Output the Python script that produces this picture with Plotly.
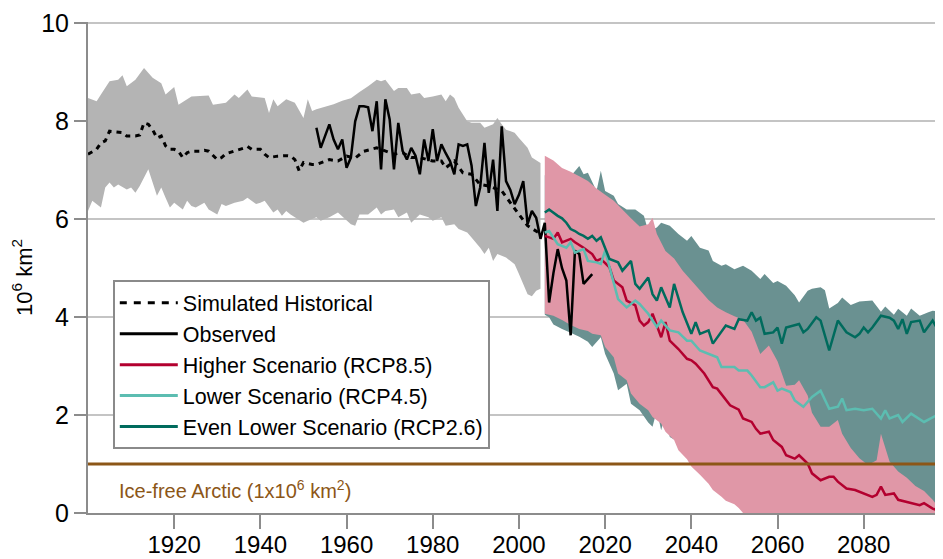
import plotly.graph_objects as go

# ---- data (10^6 km^2) ----
hist_upper_years = [1900, 1902, 1903, 1905, 1907, 1908, 1909, 1911, 1913, 1915, 1917, 1918, 1920, 1921,
                    1924, 1928, 1929, 1932, 1934, 1935, 1937, 1938, 1941, 1942, 1943, 1944, 1946, 1948,
                    1950, 1951, 1952, 1953, 1955, 1957, 1959, 1961, 1963, 1965, 1967, 1968, 1969, 1971,
                    1972, 1974, 1975, 1977, 1978, 1980, 1982, 1983, 1984, 1985, 1986, 1988, 1989, 1991,
                    1992, 1994, 1995, 1996, 1997, 1999, 2000, 2002, 2003, 2005]
hist_upper = [8.48, 8.41, 8.55, 8.82, 8.85, 8.94, 8.72, 8.85, 9.09, 8.89, 8.78, 8.55, 8.70, 8.34,
              8.51, 8.53, 8.34, 8.38, 8.55, 8.48, 8.65, 8.51, 8.48, 8.17, 8.45, 8.31, 8.45, 8.38,
              8.07, 8.45, 8.21, 8.25, 8.3, 8.35, 8.42, 8.47, 8.6, 8.72, 8.85, 8.82, 8.85, 8.62,
              8.68, 8.68, 8.55, 8.58, 8.48, 8.51, 8.55, 8.41, 8.55, 8.48, 8.28, 8.00, 7.97, 7.97,
              7.87, 7.94, 8.07, 7.94, 7.83, 7.77, 7.66, 7.46, 7.26, 7.15]

hist_lower_years = [1900, 1901, 1903, 1904, 1905, 1906, 1907, 1909, 1910, 1911, 1912, 1914, 1915, 1916,
                    1917, 1918, 1919, 1920, 1922, 1923, 1924, 1925, 1927, 1928, 1930, 1931, 1932, 1934,
                    1936, 1937, 1939, 1940, 1941, 1943, 1944, 1945, 1946, 1947, 1948, 1950, 1951, 1953,
                    1954, 1956, 1958, 1961, 1962, 1963, 1965, 1967, 1968, 1969, 1971, 1972, 1974, 1975,
                    1977, 1979, 1980, 1982, 1983, 1985, 1986, 1988, 1989, 1991, 1992, 1993, 1994, 1995,
                    1997, 1999, 2000, 2002, 2003, 2004, 2005]
hist_lower = [6.17, 6.38, 6.24, 6.65, 6.75, 6.65, 6.71, 6.61, 6.65, 6.54, 6.68, 7.02, 6.75, 6.48,
              6.65, 6.44, 6.24, 6.34, 6.20, 6.38, 6.27, 6.24, 6.34, 6.20, 6.10, 6.31, 6.27, 6.34,
              6.38, 6.44, 6.31, 6.34, 6.38, 6.14, 6.20, 6.07, 6.17, 6.10, 6.04, 5.93, 5.97, 6.04,
              5.97, 6.04, 6.14, 5.90, 5.87, 6.10, 6.10, 6.24, 6.10, 6.17, 6.20, 6.04, 6.14, 5.93,
              6.10, 6.04, 5.97, 6.04, 5.87, 5.90, 5.80, 5.73, 5.63, 5.42, 5.29, 5.42, 5.15, 5.29,
              5.22, 5.08, 4.88, 4.47, 4.43, 4.54, 4.58]

sim_years = [1900, 1902, 1903, 1904, 1905, 1907, 1908, 1909, 1911, 1912, 1913, 1914, 1915, 1916,
             1917, 1918, 1919, 1920, 1921, 1922, 1923, 1924, 1926, 1927, 1928, 1930, 1931, 1932,
             1934, 1936, 1937, 1938, 1940, 1941, 1942, 1944, 1946, 1947, 1948, 1949, 1950, 1952,
             1953, 1955, 1956, 1958, 1960, 1962, 1964, 1967, 1970, 1971, 1973, 1975, 1977, 1980,
             1982, 1983, 1985, 1987, 1989, 1991, 1993, 1996, 2000, 2002, 2005]
sim_hist = [7.33, 7.43, 7.56, 7.60, 7.80, 7.77, 7.77, 7.70, 7.70, 7.72, 7.97, 7.94, 7.83, 7.66,
            7.70, 7.50, 7.43, 7.43, 7.39, 7.26, 7.36, 7.39, 7.39, 7.41, 7.39, 7.22, 7.26, 7.34,
            7.39, 7.45, 7.49, 7.43, 7.43, 7.33, 7.26, 7.29, 7.30, 7.29, 7.22, 6.99, 7.16, 7.12,
            7.12, 7.19, 7.22, 7.19, 7.29, 7.25, 7.39, 7.46, 7.36, 7.33, 7.36, 7.26, 7.26, 7.19,
            7.19, 7.05, 7.19, 6.95, 6.92, 6.71, 6.68, 6.58, 6.10, 5.87, 5.70]

obs_years = list(range(1953, 2018))
observed = [7.87, 7.46, 7.70, 7.94, 7.63, 7.43, 7.63, 7.05, 7.26, 8.00, 8.31, 8.31, 8.29, 7.80,
            8.41, 7.02, 8.45, 8.04, 7.02, 7.97, 7.40, 7.22, 7.46, 7.30, 6.92, 7.63, 7.19, 7.84,
            7.19, 7.53, 7.35, 7.19, 6.92, 7.53, 7.50, 7.53, 7.10, 6.27, 6.65, 7.56, 6.54, 7.22,
            6.17, 7.90, 6.78, 6.60, 6.31, 6.50, 6.78, 5.90, 6.17, 6.03, 5.60, 5.93, 4.30, 4.90,
            5.39, 5.00, 4.75, 3.63, 5.36, 5.29, 4.68, 4.78, 4.88]

rcp85_band_years = [2006, 2008, 2010, 2012, 2014, 2016, 2018, 2020, 2022, 2024, 2026, 2028, 2030, 2031,
                    2032, 2034, 2036, 2038, 2040, 2042, 2044, 2046, 2048, 2050, 2052, 2054, 2056, 2058,
                    2060, 2062, 2064, 2065, 2067, 2068, 2070, 2072, 2074, 2075, 2077, 2079, 2081, 2083,
                    2084, 2086, 2088, 2090, 2092, 2094, 2096, 2098, 2100]
rcp85_upper = [7.30, 7.20, 7.05, 6.97, 6.88, 6.78, 6.63, 6.50, 6.38, 6.20, 6.02, 5.85, 5.90, 6.03,
               5.70, 5.35, 5.20, 4.95, 4.75, 4.55, 4.35, 4.20, 4.10, 4.02, 3.95, 3.70, 3.25, 3.42,
               3.10, 2.60, 2.62, 2.71, 2.40, 2.05, 1.76, 1.76, 1.90, 1.62, 1.33, 1.12, 0.98, 1.08,
               1.62, 1.05, 0.85, 0.72, 0.55, 0.45, 0.27, 0.05, 0.0]
rcp85_lower_years = [2006, 2008, 2010, 2012, 2014, 2016, 2017, 2019, 2020, 2022, 2023, 2025, 2026, 2028,
                     2030, 2031, 2033, 2034, 2036, 2037, 2039, 2040, 2042, 2044, 2045, 2047, 2048, 2050,
                     2051, 2052, 2100]
rcp85_lower = [4.07, 4.03, 3.94, 3.84, 3.76, 3.72, 3.66, 3.63, 3.39, 3.18, 2.85, 2.71, 2.44, 2.23,
               2.10, 1.96, 1.83, 1.66, 1.49, 1.28, 1.10, 0.95, 0.78, 0.60, 0.47, 0.33, 0.25, 0.18,
               0.1, 0.0, 0.0]

rcp26_band_years = [2006, 2008, 2010, 2012, 2014, 2015, 2016, 2018, 2019, 2020, 2022, 2023, 2025, 2027,
                    2029, 2030, 2032, 2033, 2035, 2037, 2039, 2040, 2042, 2044, 2045, 2047, 2048, 2050,
                    2052, 2054, 2056, 2057, 2059, 2060, 2062, 2064, 2065, 2067, 2068, 2070, 2071, 2072,
                    2074, 2075, 2077, 2079, 2082, 2084, 2085, 2087, 2088, 2090, 2091, 2093, 2095, 2096,
                    2098, 2100]
rcp26_upper = [6.90, 6.92, 6.90, 6.88, 7.09, 6.92, 6.95, 6.58, 6.99, 6.58, 6.48, 6.31, 6.20, 6.20,
               6.07, 5.76, 5.83, 5.93, 5.87, 5.70, 5.56, 5.66, 5.42, 5.36, 5.15, 5.05, 5.08, 4.98,
               5.05, 4.95, 4.78, 4.88, 4.70, 4.74, 4.64, 4.45, 4.30, 4.54, 4.58, 4.61, 4.55, 4.18,
               4.29, 4.40, 4.25, 4.32, 4.34, 4.11, 4.22, 4.05, 4.17, 4.03, 4.18, 4.03, 4.10, 4.13,
               4.12, 4.12]
rcp26_lower_years = [2006, 2007, 2008, 2010, 2012, 2014, 2016, 2017, 2019, 2020, 2022, 2023, 2025, 2026,
                     2028, 2030, 2031, 2032, 2033, 2034, 2035, 2040, 2045, 2050, 2060, 2070, 2080, 2090,
                     2096, 2100]
rcp26_lower = [4.05, 4.00, 3.85, 3.76, 3.68, 3.60, 3.50, 3.39, 3.59, 3.25, 2.85, 2.51, 2.64, 2.23,
               2.10, 1.85, 1.76, 2.10, 1.69, 2.03, 1.55, 1.30, 1.00, 0.80, 0.60, 0.50, 0.40, 0.25,
               0.12, 0.10]

rcp85_years = [2006, 2008, 2009, 2010, 2012, 2013, 2015, 2017, 2018, 2019, 2021, 2022, 2024, 2025,
               2027, 2028, 2029, 2030, 2031, 2033, 2034, 2035, 2037, 2039, 2040, 2041, 2043, 2045,
               2046, 2048, 2049, 2051, 2052, 2054, 2055, 2056, 2058, 2059, 2061, 2062, 2064, 2065,
               2067, 2068, 2070, 2072, 2073, 2074, 2076, 2078, 2080, 2082, 2083, 2084, 2085, 2087,
               2088, 2090, 2091, 2093, 2094, 2096, 2097, 2098, 2099]
rcp85 = [5.66, 5.60, 5.73, 5.53, 5.60, 5.53, 5.42, 5.29, 5.15, 5.19, 5.02, 4.75, 4.61, 4.34,
         4.24, 3.93, 3.83, 3.90, 4.07, 3.59, 3.90, 3.52, 3.35, 3.15, 3.12, 3.05, 2.85, 2.57,
         2.54, 2.30, 2.20, 2.11, 1.93, 1.86, 1.72, 1.62, 1.66, 1.49, 1.35, 1.18, 1.11, 1.18,
         1.01, 0.81, 0.67, 0.74, 0.74, 0.64, 0.50, 0.47, 0.40, 0.33, 0.37, 0.54, 0.37, 0.40,
         0.27, 0.23, 0.20, 0.16, 0.20, 0.09, 0.06, 0.13, 0.15]

rcp45_years = [2006, 2007, 2009, 2011, 2012, 2013, 2015, 2016, 2018, 2019, 2020, 2021, 2022, 2023,
               2025, 2027, 2028, 2030, 2032, 2033, 2035, 2037, 2039, 2040, 2042, 2044, 2046, 2047,
               2048, 2050, 2051, 2053, 2054, 2056, 2057, 2059, 2060, 2061, 2063, 2064, 2066, 2068,
               2070, 2072, 2074, 2075, 2076, 2078, 2080, 2082, 2084, 2085, 2086, 2088, 2089, 2091,
               2094, 2096, 2097, 2098, 2099]
rcp45 = [5.73, 5.76, 5.49, 5.42, 5.53, 5.32, 5.39, 5.15, 5.12, 5.09, 5.36, 5.02, 4.68, 4.37,
         4.20, 4.34, 4.27, 4.07, 3.80, 3.93, 3.73, 3.69, 3.52, 3.52, 3.32, 3.25, 3.18, 2.98,
         2.98, 2.98, 2.91, 2.91, 2.81, 2.57, 2.57, 2.67, 2.50, 2.54, 2.47, 2.30, 2.17, 2.37,
         2.50, 2.13, 2.17, 2.34, 2.10, 2.13, 2.10, 2.13, 1.93, 2.10, 1.93, 2.00, 1.86, 2.03,
         1.86, 1.96, 2.00, 1.89, 1.95]

rcp26_years = [2006, 2007, 2009, 2010, 2011, 2012, 2013, 2014, 2015, 2016, 2017, 2018, 2019, 2020,
               2021, 2023, 2024, 2026, 2027, 2028, 2030, 2031, 2032, 2033, 2035, 2036, 2038, 2040,
               2041, 2042, 2044, 2045, 2047, 2048, 2050, 2051, 2053, 2054, 2055, 2056, 2057, 2059,
               2060, 2061, 2062, 2064, 2065, 2066, 2067, 2069, 2070, 2072, 2074, 2076, 2078, 2079,
               2080, 2081, 2082, 2084, 2086, 2087, 2088, 2089, 2090, 2091, 2093, 2094, 2096, 2098,
               2099]
rcp26 = [6.14, 6.20, 6.07, 6.02, 5.93, 5.80, 5.76, 5.70, 5.66, 5.60, 5.66, 5.56, 5.63, 5.42,
         5.19, 5.12, 4.95, 5.15, 4.68, 4.58, 4.81, 4.47, 4.34, 4.61, 4.20, 4.68, 4.10, 3.66,
         3.90, 3.66, 3.73, 3.46, 3.69, 3.83, 3.76, 3.96, 3.93, 4.10, 3.93, 3.99, 3.66, 3.69,
         3.79, 3.46, 3.79, 3.83, 3.86, 3.69, 3.76, 4.00, 3.93, 3.32, 3.93, 3.69, 3.59, 3.66,
         3.79, 3.69, 3.79, 4.03, 3.99, 3.93, 3.76, 3.96, 3.66, 3.90, 3.93, 3.69, 3.93, 3.62,
         3.70]

ice_free_level = 1.0
x_ticks = [1920, 1940, 1960, 1980, 2000, 2020, 2040, 2060, 2080]
y_ticks = [0, 2, 4, 6, 8, 10]

FONT = "Liberation Sans, Arial, sans-serif"
GRAY_BAND = "#B4B4B4"
PINK_BAND = "#E097A7"
TEAL_BAND = "#6A9191"
RED = "#B3002F"
LIGHT_TEAL = "#5CBDB1"
DARK_TEAL = "#006B5D"
BROWN = "#8C5617"
AXIS_GRAY = "#8C8C8C"


def band(xu, yu, xl, yl, color):
    return go.Scatter(
        x=xu + xl[::-1],
        y=yu + yl[::-1],
        fill="toself",
        fillcolor=color,
        mode="none",
        hoverinfo="skip",
        showlegend=False,
    )


fig = go.Figure()

# shaded ranges (RCP2.6 under RCP8.5)
fig.add_trace(band(hist_upper_years, hist_upper, hist_lower_years, hist_lower, GRAY_BAND))
fig.add_trace(band(rcp26_band_years, rcp26_upper, rcp26_lower_years, rcp26_lower, TEAL_BAND))
fig.add_trace(band(rcp85_band_years, rcp85_upper, rcp85_lower_years, rcp85_lower, PINK_BAND))

# lines
fig.add_trace(go.Scatter(x=sim_years, y=sim_hist, mode="lines", showlegend=False,
                         line={"color": "black", "width": 3, "dash": "5px,5px"}))
fig.add_trace(go.Scatter(x=obs_years, y=observed, mode="lines", showlegend=False,
                         line={"color": "black", "width": 2.5}))
fig.add_trace(go.Scatter(x=rcp85_years, y=rcp85, mode="lines", showlegend=False,
                         line={"color": RED, "width": 2.5}))
fig.add_trace(go.Scatter(x=rcp45_years, y=rcp45, mode="lines", showlegend=False,
                         line={"color": LIGHT_TEAL, "width": 2.5}))
fig.add_trace(go.Scatter(x=rcp26_years, y=rcp26, mode="lines", showlegend=False,
                         line={"color": DARK_TEAL, "width": 2.5}))

# legend entries
legend_items = [
    ("Simulated Historical", "black", "7px,7px"),
    ("Observed", "black", "solid"),
    ("Higher Scenario (RCP8.5)", RED, "solid"),
    ("Lower Scenario (RCP4.5)", LIGHT_TEAL, "solid"),
    ("Even Lower Scenario (RCP2.6)", DARK_TEAL, "solid"),
]
for name, color, dash in legend_items:
    fig.add_trace(go.Scatter(x=[None], y=[None], mode="lines", name=name,
                             line={"color": color, "width": 3, "dash": dash}))

# ice-free threshold
fig.add_hline(y=ice_free_level, line_color=BROWN, line_width=3)
fig.add_annotation(x=0.034, xref="paper", y=0.47, yref="y", xanchor="left",
                   text="Ice-free Arctic (1x10<sup>6</sup> km<sup>2</sup>)",
                   showarrow=False, font={"family": FONT, "size": 20, "color": BROWN})

# y-axis label as rotated text
fig.add_annotation(x=-0.077, xref="paper", y=0.479, yref="paper",
                   xanchor="center", yanchor="middle", textangle=-90,
                   text="10<sup>6</sup> km<sup>2</sup>", showarrow=False,
                   font={"family": FONT, "size": 22, "color": "black"})

# the page body adds an 8px offset, so the figure is 8px smaller than the window
fig.update_layout(
    width=935,
    height=551,
    margin={"l": 80, "r": 0, "t": 14, "b": 46},
    paper_bgcolor="white",
    plot_bgcolor="white",
    font={"family": FONT, "color": "black"},
    showlegend=True,
    legend={
        "x": 0.029, "y": 0.474, "xanchor": "left", "yanchor": "top",
        "bgcolor": "white", "bordercolor": "#8A8A8A", "borderwidth": 2,
        "font": {"family": FONT, "size": 21.5, "color": "black"},
        "itemwidth": 58, "traceorder": "normal",
    },
)

fig.update_xaxes(
    range=[1900, 2098.4],
    tickvals=x_ticks,
    ticks="outside", ticklen=14, tickwidth=2, tickcolor=AXIS_GRAY,
    showline=True, linecolor=AXIS_GRAY, linewidth=2,
    showgrid=False, zeroline=False, automargin=False,
    ticklabelstandoff=-5, ticklabeloverflow="allow",
    tickfont={"family": FONT, "size": 24, "color": "black"},
)
fig.update_yaxes(
    range=[0, 10.03],
    tickvals=y_ticks,
    ticks="outside", ticklen=12, tickwidth=2, tickcolor=AXIS_GRAY,
    showline=True, linecolor=AXIS_GRAY, linewidth=2,
    showgrid=True, gridcolor="#C4C4C4", gridwidth=2, zeroline=False,
    automargin=False, ticklabeloverflow="allow",
    tickfont={"family": FONT, "size": 25, "color": "black"},
)

fig.write_html("out.html")
